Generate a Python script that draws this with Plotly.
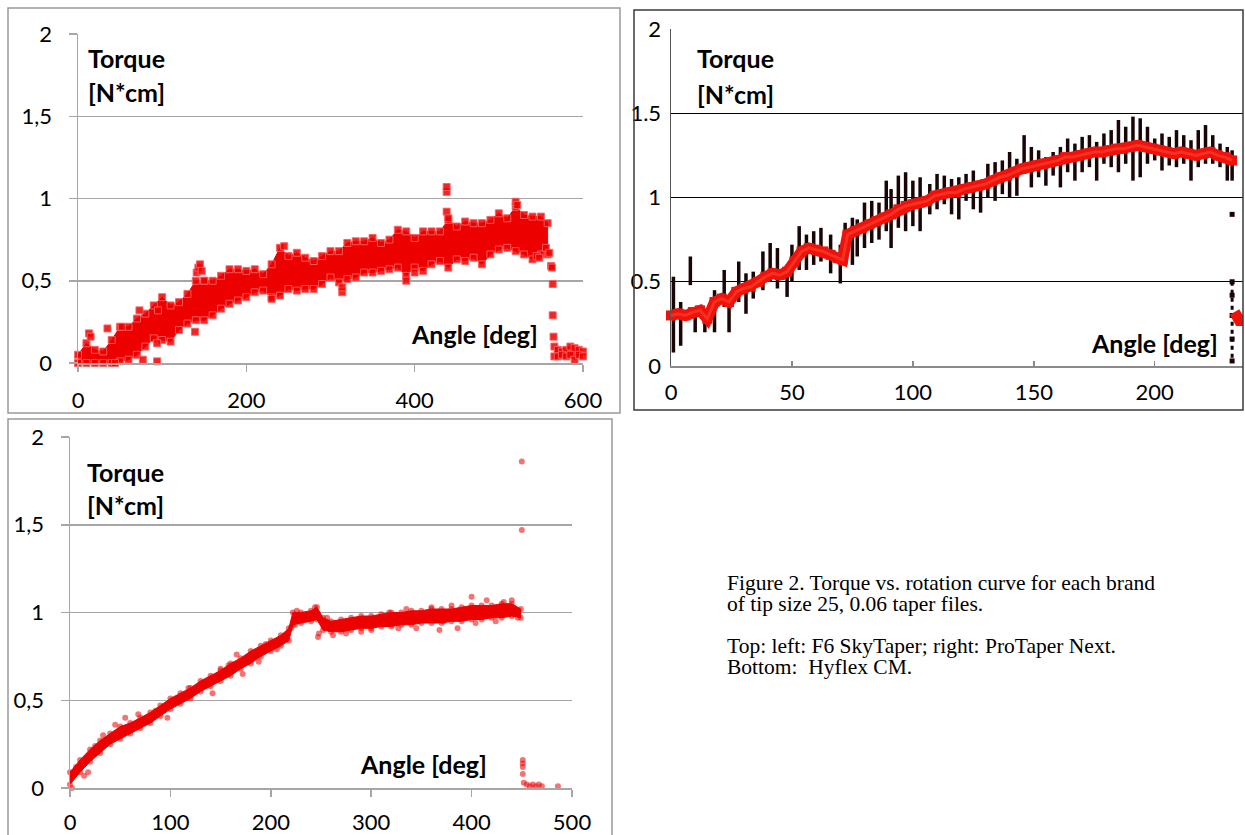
import plotly.graph_objects as go

W, H = 1245, 835

# ---------------- data ----------------
# Panel 1: F6 SkyTaper  (angle [deg] vs torque [N*cm])
P1_X = [0, 10, 20, 30, 40, 50, 60, 70, 80, 90,
        100, 110, 120, 130, 140, 150, 160, 170, 180, 190,
        200, 210, 220, 230, 240, 250, 260, 270, 280, 290,
        300, 310, 320, 330, 340, 350, 360, 370, 380, 390,
        400, 410, 420, 430, 440, 450, 460, 470, 480, 490,
        500, 510, 520, 530, 540, 550, 558]
P1_HI = [.05, .12, .08, .07, .14, .22, .22, .27, .30, .35,
         .40, .35, .37, .42, .50, .50, .50, .53, .57, .57,
         .56, .57, .54, .60, .70, .65, .67, .64, .62, .65,
         .68, .68, .73, .74, .74, .76, .73, .75, .81, .80,
         .76, .80, .80, .80, .87, .83, .86, .85, .85, .87,
         .91, .88, .95, .90, .89, .89, .85]
P1_LO = [.00, .00, .00, .00, .00, .01, .02, .05, .10, .15,
         .14, .13, .20, .24, .26, .26, .29, .33, .36, .38,
         .40, .43, .44, .40, .41, .45, .44, .45, .45, .48,
         .52, .49, .51, .52, .55, .55, .56, .57, .58, .53,
         .58, .56, .60, .62, .58, .63, .62, .64, .60, .66,
         .69, .70, .68, .66, .63, .66, .66]
P1_OUT_X = [13, 15, 35, 44, 52, 73, 77, 94, 95, 94,
            139, 141, 143, 145, 147, 150, 230, 245, 314, 314,
            390, 400, 438, 438, 438, 440, 520, 522, 545, 548,
            556, 560, 562, 563, 564, 564, 565]
P1_OUT_Y = [.18, .16, .21, .00, .22, .32, .02, .01, .32, .12,
            .19, .55, .58, .60, .56, .50, .39, .71, .43, .46,
            .50, .55, .92, 1.04, 1.07, .88, .98, .96, .65, .64,
            .70, .67, .59, .58, .48, .29, .16]
P1_TAIL_X = [566, 570, 575, 580, 585, 590, 595, 600]
P1_TAIL_HI = [.10, .08, .07, .08, .10, .09, .08, .07]
P1_TAIL_LO = [.04, .04, .05, .04, .05, .02, .05, .04]

# Panel 2: ProTaper Next
P2_X = [0, 3, 6, 9, 12, 15, 18, 21, 24, 27, 30, 33, 36, 39, 42, 45, 48, 51, 54, 57,
        60, 63, 66, 69, 71, 73, 76, 79, 82, 85, 88, 91, 94, 97, 100, 103, 106, 109,
        112, 115, 118, 121, 124, 127, 130, 133, 136, 139, 142, 145, 148, 151, 154,
        157, 160, 163, 166, 169, 172, 175, 178, 181, 184, 187, 190, 193, 196, 199,
        202, 205, 208, 211, 214, 217, 220, 223, 226, 229, 232]
P2_C = [.30, .31, .30, .32, .33, .28, .38, .40, .38, .44, .46, .47, .50, .53, .55, .54, .56, .62, .68, .70,
        .69, .68, .66, .64, .63, .78, .80, .82, .84, .86, .88, .90, .93, .95, .96, .97, .98, 1.01,
        1.02, 1.03, 1.03, 1.05, 1.06, 1.07, 1.08, 1.10, 1.12, 1.13, 1.15, 1.17, 1.18, 1.19, 1.20,
        1.21, 1.22, 1.24, 1.24, 1.25, 1.26, 1.27, 1.27, 1.28, 1.29, 1.29, 1.30, 1.31, 1.30, 1.29,
        1.28, 1.27, 1.26, 1.27, 1.26, 1.25, 1.26, 1.27, 1.25, 1.24, 1.22]
P2_SPK_X = [1, 4, 8, 10, 14, 18, 22, 24, 28, 31,
            34, 38, 41, 44, 48, 50, 53, 56, 59, 62,
            66, 70, 72, 75, 77, 80, 83, 86, 89, 91,
            94, 97, 100, 103, 107, 110, 113, 116, 119, 122,
            125, 128, 131, 134, 137, 140, 143, 146, 149, 152,
            155, 158, 161, 164, 167, 170, 173, 176, 179, 182,
            185, 188, 191, 194, 197, 200, 203, 206, 209, 212,
            215, 218, 221, 224, 227, 230, 232]
P2_SPK_TOP = [.53, .38, .65, .35, .30, .45, .57, .35, .62, .55,
              .56, .68, .73, .70, .60, .72, .83, .78, .80, .82,
              .78, .72, .85, .88, .87, .97, .98, .97, 1.10, 1.05,
              1.13, 1.15, 1.10, 1.12, 1.08, 1.14, 1.13, 1.11, 1.12, 1.14,
              1.16, 1.10, 1.20, 1.21, 1.22, 1.27, 1.23, 1.37, 1.30, 1.28,
              1.24, 1.27, 1.30, 1.35, 1.32, 1.36, 1.37, 1.33, 1.38, 1.40,
              1.46, 1.42, 1.48, 1.47, 1.42, 1.35, 1.38, 1.36, 1.40, 1.37,
              1.34, 1.40, 1.43, 1.37, 1.32, 1.30, 1.28]
P2_SPK_BOT = [.08, .12, .48, .20, .20, .20, .35, .20, .38, .31,
              .40, .45, .50, .46, .41, .50, .57, .57, .60, .62,
              .55, .49, .60, .60, .65, .70, .73, .75, .80, .70,
              .82, .80, .83, .80, .90, .93, .96, .90, .87, .98,
              .93, .91, 1.00, .98, 1.02, 1.00, 1.01, 1.15, 1.06, 1.12,
              1.07, 1.13, 1.06, 1.15, 1.10, 1.15, 1.18, 1.10, 1.20, 1.18,
              1.15, 1.20, 1.10, 1.12, 1.20, 1.22, 1.16, 1.19, 1.18, 1.20,
              1.10, 1.18, 1.20, 1.20, 1.18, 1.10, 1.10]
P2_DROP_X = [232, 232, 232, 232, 232, 232]
P2_DROP_Y = [0.90, 0.50, 0.42, 0.30, 0.16, 0.03]
P2_TAIL_X = [233, 235, 237]
P2_TAIL_Y = [0.32, 0.27, 0.27]

# Panel 3: Hyflex CM
P3_X = [0, 10, 20, 30, 40, 50, 60, 70, 80, 90,
        100, 110, 120, 130, 140, 150, 160, 170, 180, 190,
        200, 210, 218, 222, 230, 240, 246, 252, 260, 270,
        280, 290, 300, 310, 320, 330, 340, 350, 360, 370,
        380, 390, 400, 410, 420, 430, 440, 449]
P3_HI = [.09, .16, .22, .27, .31, .35, .37, .40, .43, .47,
         .51, .54, .57, .61, .64, .67, .71, .74, .78, .81,
         .84, .87, .91, 1.0, 1.0, 1.01, 1.03, .97, .95, .96,
         .97, .98, .98, .99, 1.0, 1.0, 1.01, 1.01, 1.02, 1.02,
         1.02, 1.03, 1.04, 1.04, 1.04, 1.05, 1.05, 1.02]
P3_LO = [.02, .09, .15, .20, .25, .28, .31, .34, .37, .41,
         .45, .48, .51, .55, .58, .61, .64, .68, .71, .75,
         .78, .81, .84, .93, .94, .95, .96, .90, .89, .89,
         .90, .91, .91, .92, .92, .93, .93, .94, .94, .94,
         .95, .95, .96, .96, .97, .97, .98, .97]
P3_OUT_X = [2, 4, 6, 9, 14, 18, 25, 33, 45, 55,
            68, 85, 97, 118, 142, 150, 158, 166, 172, 188,
            195, 206, 214, 220, 224, 226, 236, 244, 247, 248,
            256, 262, 275, 290, 300, 318, 327, 335, 345, 352,
            360, 368, 372, 380, 386, 400, 404, 415, 424, 432,
            440, 446, 450, 450, 451, 451, 451, 451, 452, 455,
            458, 461, 464, 467, 470, 486]
P3_OUT_Y = [.00, .08, .12, .11, .07, .09, .24, .30, .36, .40,
            .42, .44, .40, .57, .54, .68, .70, .76, .65, .72,
            .82, .79, .85, .91, .93, 1.01, .98, 1.03, .86, .88,
            .97, .87, .88, .89, .90, 1.0, .91, 1.02, .91, .99,
            1.03, .90, .95, 1.04, .91, 1.09, .94, 1.07, .95, 1.06,
            1.07, .97, 1.86, 1.47, .16, .14, .12, .08, .03, .02,
            .01, .02, .01, .02, .01, .01]

Y_TICKS = [0, 0.5, 1, 1.5, 2]
Y_TEXT_COMMA = ["0", "0,5", "1", "1,5", "2"]
Y_TEXT_DOT = ["0", "0.5", "1", "1.5", "2"]
X1_TICKS = [0, 200, 400, 600]
X2_TICKS = [0, 50, 100, 150, 200]
X3_TICKS = [0, 100, 200, 300, 400, 500]

CAPTION = ["Figure 2. Torque vs. rotation curve for each brand",
           "of tip size 25, 0.06 taper files.",
           "Top: left: F6 SkyTaper; right: ProTaper Next.",
           "Bottom:  Hyflex CM."]

# ---------------- helpers (window pixel -> paper fraction) ----------------
def fx(px):
    return px / W

def fy(py):
    return 1 - py / H

RED = "rgb(236,0,0)"
FONT = "Lato, 'Open Sans', sans-serif"
GREY = "#a6a6a6"

fig = go.Figure()

# ---- panel 1 ----
fig.add_trace(go.Scatter(x=P1_X + P1_X[::-1], y=P1_HI + P1_LO[::-1], mode="lines",
                         fill="toself", fillcolor=RED, line=dict(color=RED, width=1),
                         xaxis="x", yaxis="y", cliponaxis=False))
fig.add_trace(go.Scatter(x=P1_TAIL_X + P1_TAIL_X[::-1], y=P1_TAIL_HI + P1_TAIL_LO[::-1],
                         mode="lines", fill="toself", fillcolor=RED,
                         line=dict(color=RED, width=1), xaxis="x", yaxis="y", cliponaxis=False))
sq = dict(symbol="square", size=7, color="rgba(236,0,0,0.85)",
          line=dict(width=1, color="rgba(255,95,95,0.9)"))
fig.add_trace(go.Scatter(x=P1_X + P1_X + P1_TAIL_X + P1_TAIL_X,
                         y=P1_HI + P1_LO + P1_TAIL_HI + P1_TAIL_LO,
                         mode="markers", marker=sq, xaxis="x", yaxis="y", cliponaxis=False))
fig.add_trace(go.Scatter(x=P1_OUT_X, y=P1_OUT_Y, mode="markers", marker=sq,
                         xaxis="x", yaxis="y", cliponaxis=False))

# ---- panel 2 ----
sx, sy = [], []
for xv, t, b in zip(P2_SPK_X, P2_SPK_TOP, P2_SPK_BOT):
    sx += [xv, xv, None]
    sy += [t, b, None]
fig.add_trace(go.Scatter(x=sx, y=sy, mode="lines", line=dict(color="rgb(25,5,5)", width=3.5),
                         xaxis="x2", yaxis="y2", cliponaxis=False))
fig.add_trace(go.Scatter(x=P2_X, y=P2_C, mode="lines+markers",
                         line=dict(color="rgb(240,18,10)", width=11),
                         marker=dict(symbol="square", size=10, color="rgb(240,18,10)"),
                         xaxis="x2", yaxis="y2", cliponaxis=False))
fig.add_trace(go.Scatter(x=P2_X, y=P2_C, mode="lines",
                         line=dict(color="rgba(255,95,70,0.4)", width=3),
                         xaxis="x2", yaxis="y2", cliponaxis=False))
fig.add_trace(go.Scatter(x=P2_DROP_X, y=P2_DROP_Y, mode="markers",
                         marker=dict(symbol="square", size=5, color="rgb(25,5,5)"),
                         xaxis="x2", yaxis="y2", cliponaxis=False))
fig.add_trace(go.Scatter(x=P2_DROP_X[1:], y=P2_DROP_Y[1:], mode="lines",
                         line=dict(color="rgb(25,5,5)", width=3, dash="4px,4px"),
                         xaxis="x2", yaxis="y2", cliponaxis=False))
fig.add_trace(go.Scatter(x=P2_TAIL_X, y=P2_TAIL_Y, mode="lines",
                         line=dict(color="rgb(240,18,10)", width=11),
                         xaxis="x2", yaxis="y2", cliponaxis=False))

# ---- panel 3 ----
fig.add_trace(go.Scatter(x=P3_X + P3_X[::-1], y=P3_HI + P3_LO[::-1], mode="lines",
                         fill="toself", fillcolor=RED, line=dict(color=RED, width=1),
                         xaxis="x3", yaxis="y3", cliponaxis=False))
dot = dict(symbol="circle", size=6, color="rgba(236,0,0,0.55)", line=dict(width=0))
fig.add_trace(go.Scatter(x=P3_X + P3_X, y=P3_HI + P3_LO, mode="markers", marker=dot,
                         xaxis="x3", yaxis="y3", cliponaxis=False))
fig.add_trace(go.Scatter(x=P3_OUT_X, y=P3_OUT_Y, mode="markers", marker=dot,
                         xaxis="x3", yaxis="y3", cliponaxis=False))

# ---------------- axes ----------------
tickfont = dict(family=FONT, size=22, color="black")

def xax(domain, rng, ticks, anchor, linecolor, tickdir, ticklen, standoff):
    return dict(domain=domain, range=rng, tickvals=ticks, showgrid=False, zeroline=False,
                showline=True, linecolor=linecolor, linewidth=1.5, ticks=tickdir,
                ticklen=ticklen, tickcolor=linecolor, tickwidth=1.5, tickfont=tickfont,
                anchor=anchor, fixedrange=True, ticklabelstandoff=standoff, automargin=False)

def yax(domain, ticktext, anchor, gridcolor, gridwidth, linecolor, tickdir, ticklen, standoff):
    return dict(domain=domain, range=[0, 2], tickvals=Y_TICKS, ticktext=ticktext,
                showgrid=True, gridcolor=gridcolor, gridwidth=gridwidth, zeroline=False,
                showline=True, linecolor=linecolor, linewidth=1.5, ticks=tickdir,
                ticklen=ticklen, tickcolor=gridcolor, tickwidth=gridwidth, tickfont=tickfont,
                anchor=anchor, fixedrange=True, ticklabelstandoff=standoff, automargin=False)

layout = dict(
    template="none",
    width=W, height=H, margin=dict(l=0, r=0, t=0, b=0, pad=0, autoexpand=False),
    paper_bgcolor="white", plot_bgcolor="white", showlegend=False, hovermode=False,
    xaxis=xax([fx(78), fx(583)], [0, 600], X1_TICKS, "y", GREY, "outside", 7, 10),
    yaxis=yax([fy(363), fy(34)], Y_TEXT_COMMA, "x", GREY, 1.5, GREY, "outside", 8, 12),
    xaxis2=xax([fx(671), fx(1243)], [0, 236.5], X2_TICKS, "y2", "#8a8a8a", "inside", 5, 6),
    yaxis2=yax([fy(366), fy(29)], Y_TEXT_DOT, "x2", "black", 1, "#555555", "", 0, 4),
    xaxis3=xax([fx(70), fx(572)], [0, 500], X3_TICKS, "y3", GREY, "outside", 7, 7),
    yaxis3=yax([fy(788), fy(437)], Y_TEXT_COMMA, "x3", GREY, 1.5, GREY, "outside", 8, 12),
)

shapes = [
    dict(type="rect", xref="paper", yref="paper", x0=fx(8), x1=fx(620), y0=fy(413), y1=fy(8),
         line=dict(color="#9a9a9a", width=1.5)),
    dict(type="rect", xref="paper", yref="paper", x0=fx(634), x1=fx(1243), y0=fy(410), y1=fy(10),
         line=dict(color="#3a3a3a", width=1.5)),
    dict(type="rect", xref="paper", yref="paper", x0=fx(8), x1=fx(612), y0=fy(845), y1=fy(419),
         line=dict(color="#9a9a9a", width=1.5)),
]

bold = dict(family=FONT, size=25, color="black", weight="bold")

def ann(text, x, y, xanchor, font):
    return dict(text=text, x=fx(x), y=fy(y), xref="paper", yref="paper", xanchor=xanchor,
                yanchor="middle", showarrow=False, font=font)

annotations = [
    ann("Torque", 86, 58, "left", bold), ann("[N*cm]", 86, 92, "left", bold),
    ann("Angle [deg]", 540, 334, "right", bold),
    ann("Torque", 695, 58, "left", bold), ann("[N*cm]", 695, 94, "left", bold),
    ann("Angle [deg]", 1220, 343, "right", bold),
    ann("Torque", 85, 472, "left", bold), ann("[N*cm]", 85, 505, "left", bold),
    ann("Angle [deg]", 489, 764, "right", bold),
]
cap_font = dict(family="'Liberation Serif', 'Times New Roman', serif", size=21.5, color="black")
for line, yy in zip(CAPTION, [583, 604, 646, 667]):
    annotations.append(ann(line, 725, yy, "left", cap_font))

layout["shapes"] = shapes
layout["annotations"] = annotations
fig.update_layout(**layout)

# remove the default page margin so the figure sits at the window's top-left corner
fig.write_html("out.html", config={"displayModeBar": False, "staticPlot": True},
               post_script="document.body.style.margin='0';document.body.style.overflow='hidden';")
